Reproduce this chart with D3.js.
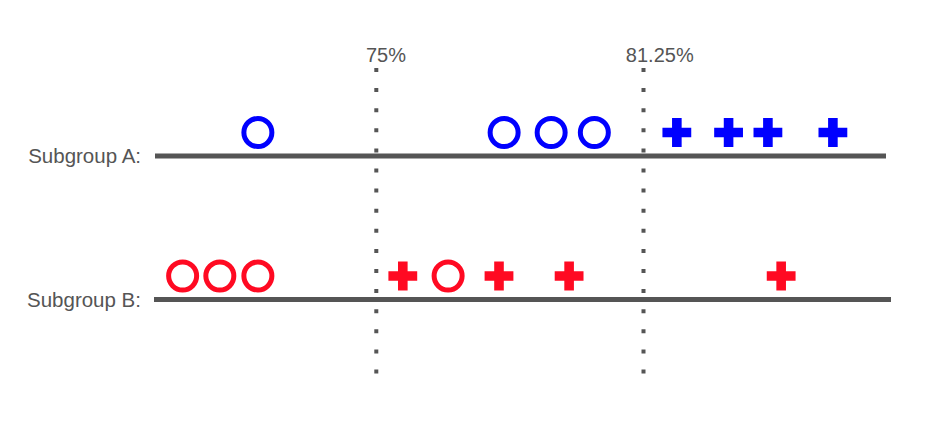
<!DOCTYPE html>
<html>
<head>
<meta charset="utf-8">
<script src="https://cdn.jsdelivr.net/npm/d3@7"></script>
<style>
  html, body { margin: 0; padding: 0; background: #fff; }
  svg { display: block; }
  text { font-family: "Liberation Sans", Arial, sans-serif; fill: #555; }
</style>
</head>
<body>
<svg id="chart" width="942" height="428"></svg>
<script>
// ---- data ----
const groups = ["Subgroup A:", "Subgroup B:"];
const thresholds = [75, 81.25];
const thresholdLabels = ["75%", "81.25%"];
const circlesA = [72.23, 77.99, 79.09, 80.10];
const plusesA  = [82.03, 83.24, 84.16, 85.68];
const circlesB = [70.47, 71.34, 72.23, 76.68];
const plusesB  = [75.62, 77.87, 79.51, 84.47];
const groupColors = ["#0000ff", "#ff0a22"];

// ---- layout ----
const svg = d3.select("#chart");
const x = d3.scaleLinear().domain([75, 81.25]).range([376.3, 643.5]);
const y = d3.scalePoint().domain(groups).range([156, 299.5]);
const lineExtent = { "Subgroup A:": [155, 886], "Subgroup B:": [154, 891] };
const markerOffset = 23.5;

// dotted threshold lines
thresholds.forEach((t, i) => {
  svg.append("line")
    .attr("x1", x(t)).attr("x2", x(t))
    .attr("y1", 68).attr("y2", 378)
    .attr("stroke", "#555")
    .attr("stroke-width", 4)
    .attr("stroke-dasharray", "4,16.1");
  const lbl = svg.append("text")
    .attr("y", 62)
    .attr("font-size", "20px")
    .text(thresholdLabels[i]);
  const w = lbl.node().getComputedTextLength();
  lbl.attr("x", x(t) - 0.26 * w);
});

// group lines and labels
groups.forEach(g => {
  svg.append("line")
    .attr("x1", lineExtent[g][0]).attr("x2", lineExtent[g][1])
    .attr("y1", y(g)).attr("y2", y(g))
    .attr("stroke", "#555")
    .attr("stroke-width", 5);
  svg.append("text")
    .attr("x", 141)
    .attr("y", y(g))
    .attr("dy", "0.36em")
    .attr("text-anchor", "end")
    .attr("font-size", "20.5px")
    .text(g);
});

const series = [
  { g: groups[0], circles: circlesA, pluses: plusesA, color: groupColors[0] },
  { g: groups[1], circles: circlesB, pluses: plusesB, color: groupColors[1] }
];

const cross = d3.symbol().type(d3.symbolCross).size(461);

series.forEach(s => {
  const my = y(s.g) - markerOffset;
  svg.append("g").selectAll("circle")
    .data(s.circles).join("circle")
    .attr("cx", d => x(d))
    .attr("cy", my)
    .attr("r", 14)
    .attr("fill", "none")
    .attr("stroke", s.color)
    .attr("stroke-width", 5);
  svg.append("g").selectAll("path")
    .data(s.pluses).join("path")
    .attr("d", cross)
    .attr("transform", d => `translate(${x(d)},${my})`)
    .attr("fill", s.color);
});
</script>
</body>
</html>
